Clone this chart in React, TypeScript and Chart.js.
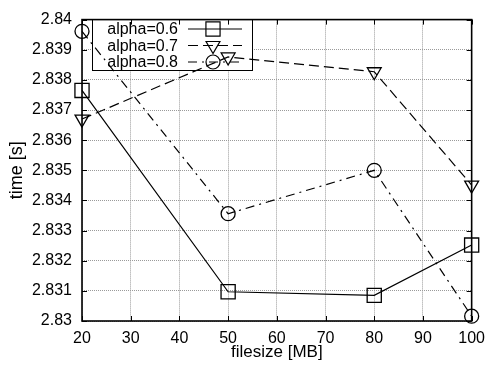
import React, { useEffect, useRef } from 'react';
import { Chart, registerables } from 'chart.js';

Chart.register(...registerables);

const filesizes = [20, 50, 80, 100];
const alpha06 = [2.83765, 2.83097, 2.83085, 2.83252];
const alpha07 = [2.8367, 2.83876, 2.83827, 2.83451];
const alpha08 = [2.83961, 2.83356, 2.835, 2.83016];
const seriesLabels = ['alpha=0.6', 'alpha=0.7', 'alpha=0.8'];
const xTicks = [20, 30, 40, 50, 60, 70, 80, 90, 100];
const yTicks = [2.83, 2.831, 2.832, 2.833, 2.834, 2.835, 2.836, 2.837, 2.838, 2.839, 2.84];
const xTitle = 'filesize [MB]';
const yTitle = 'time [s]';

const FONT = 'Liberation Sans, Arial, Helvetica, sans-serif';

const styles = [
  { dash: [] as number[], pointStyle: 'rect', radius: 10, rotation: 0 },
  { dash: [10, 5], pointStyle: 'triangle', radius: 8, rotation: 180 },
  { dash: [9, 5, 2, 5], pointStyle: 'circle', radius: 7, rotation: 0 },
];

const seriesValues = [alpha06, alpha07, alpha08];

const framePlugin = {
  id: 'gnuplotFrame',
  beforeDatasetsDraw(chart: any) {
    const ctx = chart.ctx;
    ctx.save();
    ctx.fillStyle = '#fff';
    ctx.fillRect(92, 19, 160, 51);
    ctx.restore();
  },
  afterDraw(chart: any) {
    const ctx = chart.ctx;
    const { left, right, top, bottom } = chart.chartArea;
    const xs = chart.scales.x;
    const ys = chart.scales.y;
    ctx.save();
    ctx.strokeStyle = '#000';
    ctx.lineWidth = 1;
    ctx.setLineDash([]);
    const tl = 5;
    ctx.beginPath();
    xTicks.forEach((v) => {
      const px = Math.round(xs.getPixelForValue(v)) + 0.5;
      ctx.moveTo(px, bottom);
      ctx.lineTo(px, bottom - tl);
      ctx.moveTo(px, top);
      ctx.lineTo(px, top + tl);
    });
    yTicks.forEach((v) => {
      const py = Math.round(ys.getPixelForValue(v)) + 0.5;
      ctx.moveTo(left, py);
      ctx.lineTo(left + tl, py);
      ctx.moveTo(right, py);
      ctx.lineTo(right - tl, py);
    });
    ctx.stroke();
    ctx.lineWidth = 1.6;
    ctx.strokeRect(left, top, right - left, bottom - top);

    // legend
    ctx.lineWidth = 1;
    ctx.strokeRect(92.5, 19.5, 160, 51);
    ctx.font = `16px ${FONT}`;
    ctx.fillStyle = '#000';
    ctx.textAlign = 'right';
    ctx.textBaseline = 'middle';
    const rows = [29, 45.5, 62];
    seriesLabels.forEach((lab, i) => {
      const y = rows[i];
      ctx.fillText(lab, 178, y + 1);
      ctx.lineWidth = 1.2;
      ctx.setLineDash(styles[i].dash);
      ctx.beginPath();
      ctx.moveTo(188, y);
      ctx.lineTo(242, y);
      ctx.stroke();
      ctx.setLineDash([]);
      ctx.beginPath();
      const r = styles[i].radius;
      if (styles[i].pointStyle === 'rect') {
        const s = r * Math.SQRT1_2;
        ctx.rect(213 - s, y - s, 2 * s, 2 * s);
      } else if (styles[i].pointStyle === 'circle') {
        ctx.arc(213, y, r, 0, Math.PI * 2);
      } else {
        const cx = 213;
        const cy = y;
        for (let k = 0; k < 3; k++) {
          const a = Math.PI + (k * 2 * Math.PI) / 3;
          const px = cx + Math.sin(a) * r;
          const py = cy - Math.cos(a) * r;
          if (k === 0) ctx.moveTo(px, py);
          else ctx.lineTo(px, py);
        }
        ctx.closePath();
      }
      ctx.stroke();
    });
    ctx.restore();
  },
};

export default function App() {
  const ref = useRef<HTMLCanvasElement | null>(null);
  useEffect(() => {
    if (!ref.current) return;
    const datasets = seriesValues.map((vals, i) => ({
      label: seriesLabels[i],
      data: filesizes.map((x, j) => ({ x, y: vals[j] })),
      borderColor: '#000',
      backgroundColor: 'rgba(0,0,0,0)',
      borderWidth: 1.2,
      borderDash: styles[i].dash,
      pointStyle: styles[i].pointStyle,
      pointRadius: styles[i].radius,
      pointRotation: styles[i].rotation,
      pointBorderColor: '#000',
      pointBackgroundColor: 'rgba(0,0,0,0)',
      pointBorderWidth: 1.3,
      tension: 0,
      fill: false,
      clip: false as any,
    }));
    const chart = new Chart(ref.current, {
      type: 'line',
      data: { datasets },
      plugins: [framePlugin],
      options: {
        responsive: false,
        animation: false,
        events: [],
        layout: { padding: { top: 15, right: 16, left: 0, bottom: 0 } },
        plugins: { legend: { display: false }, tooltip: { enabled: false } },
        scales: {
          x: {
            type: 'linear',
            min: 20,
            max: 100,
            afterBuildTicks: (s: any) => {
              s.ticks = xTicks.map((v) => ({ value: v }));
            },
            afterFit: (s: any) => {
              s.height = 46;
            },
            ticks: {
              color: '#000',
              font: { family: FONT, size: 16 },
              padding: 8,
              maxRotation: 0,
              autoSkip: false,
              callback: (v: any) => String(v),
            },
            grid: { color: '#9a9a9a', drawTicks: false, lineWidth: 1 },
            border: { display: false, dash: [1, 1] },
            title: {
              display: true,
              text: xTitle,
              color: '#000',
              font: { family: FONT, size: 17 },
              padding: { top: 0, bottom: 4 },
            },
          },
          y: {
            type: 'linear',
            min: 2.83,
            max: 2.84,
            afterBuildTicks: (s: any) => {
              s.ticks = yTicks.map((v) => ({ value: v }));
            },
            afterFit: (s: any) => {
              s.width = 82;
            },
            ticks: {
              color: '#000',
              font: { family: FONT, size: 16 },
              padding: 10,
              autoSkip: false,
              callback: (v: any) => String(Number(Number(v).toFixed(3))),
            },
            grid: { color: '#9a9a9a', drawTicks: false, lineWidth: 1 },
            border: { display: false, dash: [1, 1] },
            title: {
              display: true,
              text: yTitle,
              color: '#000',
              font: { family: FONT, size: 18 },
              padding: { top: 6, bottom: 0 },
            },
          },
        },
      },
    });
    return () => chart.destroy();
  }, []);
  return (
    <div style={{ position: 'absolute', left: 0, top: 0, width: 493, height: 367, background: '#fff' }}>
      <canvas ref={ref} width={493} height={367} style={{ display: 'block' }} />
    </div>
  );
}
